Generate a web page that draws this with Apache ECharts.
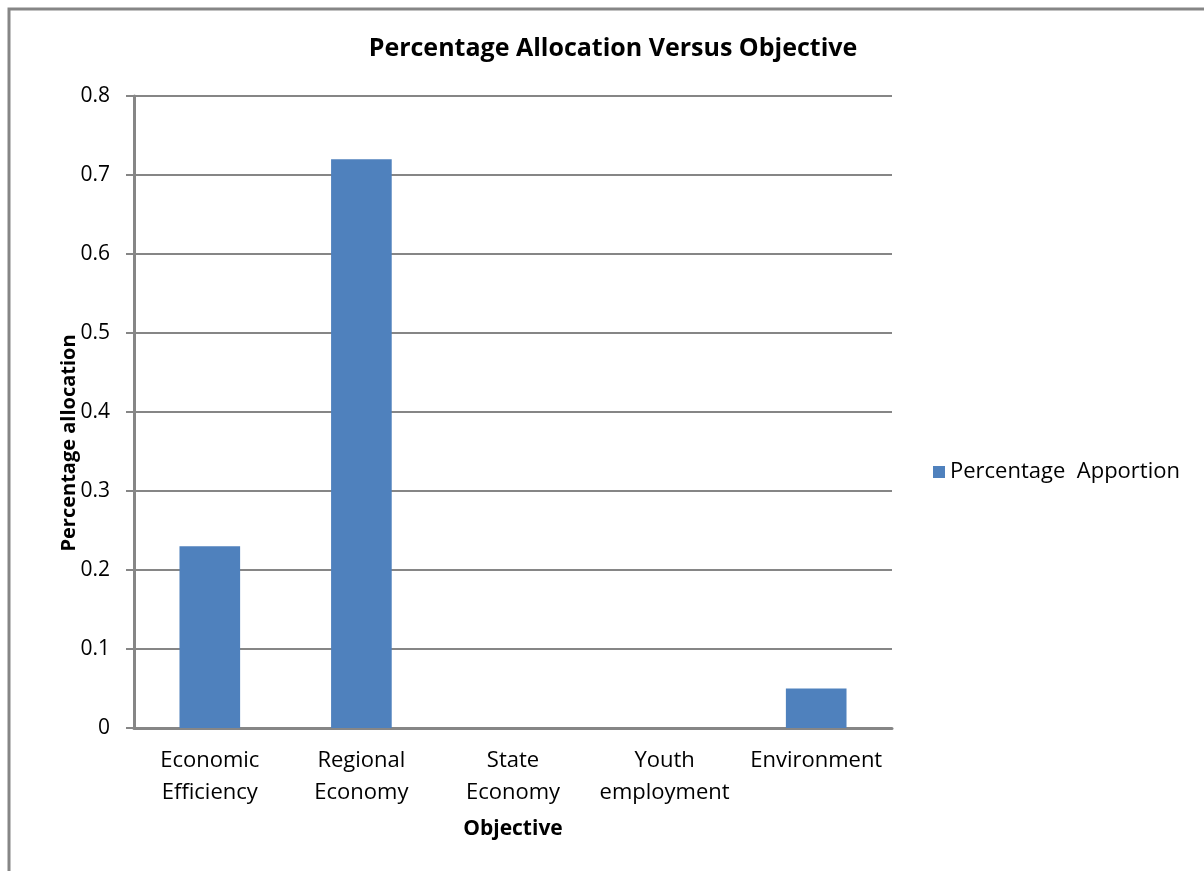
<!DOCTYPE html>
<html>
<head>
<meta charset="utf-8">
<style>
  html, body { margin: 0; padding: 0; background: #ffffff; }
  #chart { width: 1204px; height: 871px; }
</style>
<script src="https://cdn.jsdelivr.net/npm/echarts@6/dist/echarts.min.js"></script>
</head>
<body>
<div id="chart"></div>
<script>
// Objectives on the x axis and the share allocated to each
const categories = ['Economic\nEfficiency', 'Regional\nEconomy', 'State\nEconomy', 'Youth\nemployment', 'Environment'];
const apportion = [0.23, 0.72, 0, 0, 0.05];
const seriesName = 'Percentage  Apportion';
const titleText = 'Percentage Allocation Versus Objective';
const xAxisTitle = 'Objective';
const yAxisTitle = 'Percentage allocation';

const FONT = '"Open Sans", "Noto Sans", sans-serif';
const GRAY = '#868686';

const chart = echarts.init(document.getElementById('chart'), null, { renderer: 'canvas' });

chart.setOption({
  backgroundColor: '#ffffff',
  animation: false,
  textStyle: { fontFamily: FONT },
  graphic: [{
    type: 'rect',
    shape: { x: 9, y: 9, width: 1240, height: 900 },
    style: { fill: 'none', stroke: GRAY, lineWidth: 3 },
    z: -1
  }],
  title: {
    text: titleText,
    left: 608,
    textAlign: 'center',
    top: 31,
    textStyle: { fontFamily: FONT, fontSize: 25, fontWeight: 'bold', color: '#000000' }
  },
  legend: {
    data: [seriesName],
    left: 933,
    top: 461,
    padding: 0,
    icon: 'rect',
    itemWidth: 12,
    itemHeight: 12,
    itemGap: 6,
    textStyle: { fontFamily: FONT, fontSize: 22, color: '#000000' }
  },
  grid: { left: 134, top: 96, width: 758, height: 632, containLabel: false },
  xAxis: {
    type: 'category',
    data: categories,
    name: xAxisTitle,
    nameLocation: 'middle',
    nameGap: 91,
    nameMoveOverlap: false,
    nameTextStyle: { fontFamily: FONT, fontSize: 21, fontWeight: 'bold', color: '#000000' },
    axisLine: { lineStyle: { color: GRAY, width: 3 } },
    axisTick: { show: false },
    axisLabel: {
      interval: 0,
      margin: 17,
      fontFamily: FONT,
      fontSize: 22,
      lineHeight: 32,
      color: '#000000'
    }
  },
  yAxis: {
    type: 'value',
    min: 0,
    max: 0.8,
    interval: 0.1,
    name: yAxisTitle,
    nameLocation: 'middle',
    nameGap: 55,
    nameMoveOverlap: false,
    nameRotate: 90,
    nameTextStyle: {
      fontFamily: FONT, fontSize: 20, fontWeight: 'bold', color: '#000000',
      padding: [0, 62, 0, 0]
    },
    axisLine: { show: true, lineStyle: { color: GRAY, width: 3 } },
    axisTick: { show: true, length: 8, lineStyle: { color: GRAY, width: 2 } },
    splitLine: { lineStyle: { color: GRAY, width: 2 } },
    axisLabel: {
      margin: 24,
      fontFamily: FONT,
      fontSize: 21,
      color: '#000000',
      formatter: v => (Math.round(v * 10) / 10).toString()
    }
  },
  series: [{
    name: seriesName,
    type: 'bar',
    data: apportion,
    barWidth: '40%',
    itemStyle: { color: '#4F81BD' }
  }]
});
</script>
</body>
</html>
